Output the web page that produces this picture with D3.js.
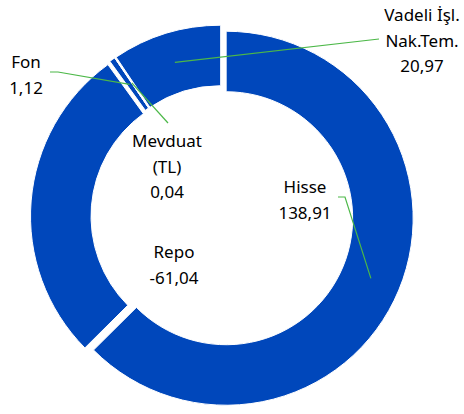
<!DOCTYPE html>
<html>
<head>
<meta charset="utf-8">
<script src="https://cdn.jsdelivr.net/npm/d3@7"></script>
<style>
  html, body { margin: 0; padding: 0; background: #fff; }
  svg text { font-family: "Noto Sans", "Open Sans", sans-serif; fill: #000; }
</style>
</head>
<body>
<svg id="chart" width="464" height="414"></svg>
<script>
// data
const categories = ["Hisse", "Repo", "Fon", "Mevduat (TL)", "Vadeli İşl. Nak.Tem."];
const values = [138.91, -61.04, 1.12, 0.04, 20.97];
const labelLines = [["Hisse"], ["Repo"], ["Fon"], ["Mevduat", "(TL)"], ["Vadeli İşl.", "Nak.Tem."]];

// label layout (text centre, first baseline) and leader elbows
const labelPos = [[305, 193], [174, 258], [26, 68], [167, 147], [422, 21]];
const leaderEnds = [[[345, 197], [338, 197]], null, [[58, 72], [50, 72]], [[168, 123]], [[379, 39]]];

const svg = d3.select("#chart"),
    cx = 222, cy = 216.5,
    outerR = 187, innerR = 126.5,
    explode = 4.5,
    lineH = 25.5;

const fmt = d3.formatLocale({decimal: ",", thousands: ".", grouping: [3], currency: ["", ""], minus: "-"}).format(".2f");

const pie = d3.pie()
    .sort(null)
    .value(function(d) { return Math.abs(d); });

const arc = d3.arc().innerRadius(innerR).outerRadius(outerR);
const arcs = pie(values);

function shift(d) {
    const a = (d.startAngle + d.endAngle) / 2;
    return [Math.sin(a) * explode, -Math.cos(a) * explode];
}

const g = svg.append("g")
    .attr("transform", "translate(" + cx + "," + cy + ")");

g.selectAll("path.slice")
    .data(arcs)
    .enter()
    .append("path")
    .attr("class", "slice")
    .attr("d", arc)
    .attr("transform", function(d) { const s = shift(d); return "translate(" + s[0] + "," + s[1] + ")"; })
    .style("fill", "#0047BB")
    .style("stroke", "#fff")
    .style("stroke-width", 1);

// leader lines
arcs.forEach(function(d, i) {
    if (!leaderEnds[i]) return;
    const c = arc.centroid(d), s = shift(d);
    const pts = [[cx + c[0] + s[0], cy + c[1] + s[1]]].concat(leaderEnds[i]);
    svg.append("path")
        .attr("d", d3.line()(pts))
        .style("fill", "none")
        .style("stroke", "#4CB848")
        .style("stroke-width", 1.2);
});

// labels
categories.forEach(function(name, i) {
    const lines = labelLines[i].concat([fmt(values[i])]);
    const t = svg.append("text")
        .attr("text-anchor", "middle")
        .style("font-size", "17px");
    lines.forEach(function(l, k) {
        t.append("tspan")
            .attr("x", labelPos[i][0])
            .attr("y", labelPos[i][1] + k * lineH)
            .text(l);
    });
});
</script>
</body>
</html>
